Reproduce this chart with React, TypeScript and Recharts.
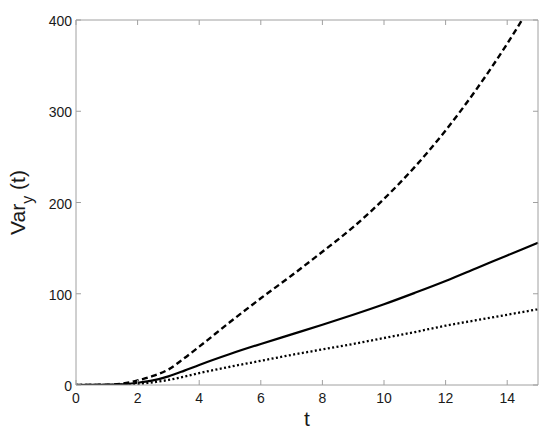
import { LineChart, Line, XAxis, YAxis } from 'recharts';

// time samples and the three variance curves
const tValues = [0, 1, 1.5, 2, 2.5, 3, 3.5, 4, 5, 6, 7, 8, 9, 10, 11, 12, 13, 14, 15];
const dashedVar = [0, 0.3, 1.5, 5, 10, 17, 29, 42, 69, 95, 120, 146, 173, 204, 239, 279, 324, 374, 429];
const solidVar = [0, 0.2, 0.8, 2.5, 5, 9.5, 15.5, 22, 34, 45, 55.5, 66, 77, 88.5, 101, 114, 128, 142, 156];
const dottedVar = [0, 0.1, 0.5, 1.2, 3, 5.5, 9, 13, 20, 26.5, 33, 39, 45, 51.5, 58, 65, 71, 77, 83];

const xTicks = [0, 2, 4, 6, 8, 10, 12, 14];
const yTicks = [0, 100, 200, 300, 400];

const data = tValues.map((t, i) => ({
  t,
  dashed: dashedVar[i],
  solid: solidVar[i],
  dotted: dottedVar[i],
}));

const AXIS = '#a0a0a0';
const TEXT = '#1a1a1a';
const FONT = 'Arial, "Liberation Sans", sans-serif';

const BottomTick = (props: any) => {
  const { x, y, payload } = props;
  return (
    <g>
      <line x1={x} y1={y} x2={x} y2={y - 5} stroke={AXIS} />
      <text x={x} y={y + 18} textAnchor="middle" fontSize={14} fontFamily={FONT} fill={TEXT}>
        {payload.value}
      </text>
    </g>
  );
};

const TopTick = (props: any) => {
  const { x, y } = props;
  return <line x1={x} y1={y} x2={x} y2={y + 5} stroke={AXIS} />;
};

const LeftTick = (props: any) => {
  const { x, y, payload } = props;
  return (
    <g>
      <line x1={x} y1={y} x2={x + 5} y2={y} stroke={AXIS} />
      <text x={x - 4} y={y + 6} textAnchor="end" fontSize={14} fontFamily={FONT} fill={TEXT}>
        {payload.value}
      </text>
    </g>
  );
};

const RightTick = (props: any) => {
  const { x, y } = props;
  return <line x1={x} y1={y} x2={x - 5} y2={y} stroke={AXIS} />;
};

const XLabel = (props: any) => {
  const { x, y, width } = props.viewBox;
  return (
    <text x={x + width / 2} y={y + 41} textAnchor="middle" fontSize={21} fontFamily={FONT} fill={TEXT}>
      t
    </text>
  );
};

const YLabel = (props: any) => {
  const { x, y, width, height } = props.viewBox;
  const cx = x + width - 51;
  const cy = y + height / 2;
  return (
    <text
      x={cx}
      y={cy}
      transform={`rotate(-90, ${cx}, ${cy})`}
      textAnchor="middle"
      fontSize={21}
      fontFamily={FONT}
      fill={TEXT}
    >
      Var
      <tspan fontSize={16} dy={8}>y</tspan>
      <tspan dy={-8}> (t)</tspan>
    </text>
  );
};

export default function App() {
  return (
    <div style={{ position: 'absolute', left: 0, top: 0, background: '#fff' }}>
      <LineChart
        width={550}
        height={434}
        data={data}
        margin={{ top: 0, right: 0, left: 0, bottom: 0 }}
      >
        <XAxis
          xAxisId="b"
          dataKey="t"
          type="number"
          domain={[0, 15]}
          ticks={xTicks}
          height={49}
          tickSize={0}
          tickMargin={0}
          tickLine={false}
          axisLine={{ stroke: AXIS }}
          tick={<BottomTick />}
          label={<XLabel />}
        />
        <XAxis
          xAxisId="top"
          orientation="top"
          dataKey="t"
          type="number"
          domain={[0, 15]}
          ticks={xTicks}
          height={20}
          tickSize={0}
          tickMargin={0}
          tickLine={false}
          axisLine={{ stroke: AXIS }}
          tick={<TopTick />}
        />
        <YAxis
          yAxisId="l"
          type="number"
          domain={[0, 400]}
          ticks={yTicks}
          allowDataOverflow
          width={76}
          tickSize={0}
          tickMargin={0}
          tickLine={false}
          axisLine={{ stroke: AXIS }}
          tick={<LeftTick />}
          label={<YLabel />}
        />
        <YAxis
          yAxisId="r"
          orientation="right"
          type="number"
          domain={[0, 400]}
          ticks={yTicks}
          allowDataOverflow
          width={12}
          tickSize={0}
          tickMargin={0}
          tickLine={false}
          axisLine={{ stroke: AXIS }}
          tick={<RightTick />}
        />
        <Line
          xAxisId="b"
          yAxisId="l"
          type="monotone"
          dataKey="dotted"
          stroke="#000"
          strokeWidth={2.3}
          strokeDasharray="2 2.4"
          dot={false}
          isAnimationActive={false}
        />
        <Line
          xAxisId="b"
          yAxisId="l"
          type="monotone"
          dataKey="solid"
          stroke="#000"
          strokeWidth={2.2}
          dot={false}
          isAnimationActive={false}
        />
        <Line
          xAxisId="b"
          yAxisId="l"
          type="monotone"
          dataKey="dashed"
          stroke="#000"
          strokeWidth={2.4}
          strokeDasharray="6 3.5"
          dot={false}
          isAnimationActive={false}
        />
      </LineChart>
    </div>
  );
}
